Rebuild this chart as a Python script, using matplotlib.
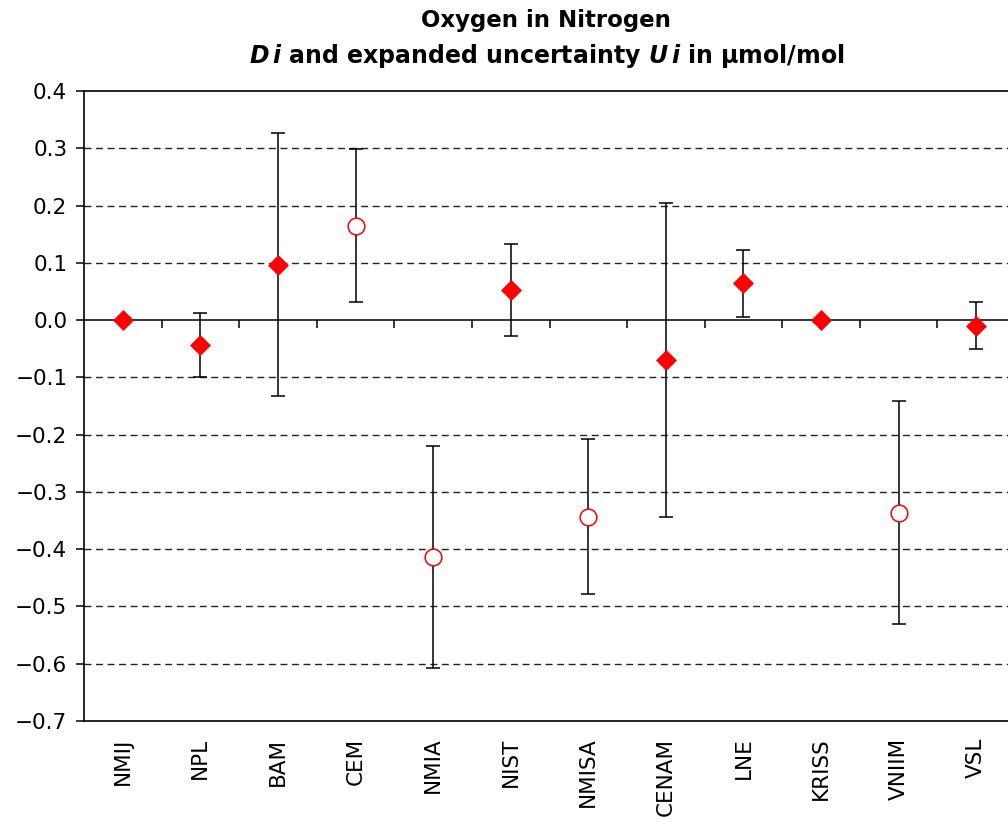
import numpy as np
import matplotlib
matplotlib.use("Agg")
import matplotlib.pyplot as plt

labs = ["NMIJ", "NPL", "BAM", "CEM", "NMIA", "NIST", "NMISA", "CENAM", "LNE", "KRISS", "VNIIM", "VSL"]
d_vals = [0.0, -0.043, 0.097, 0.165, -0.413, 0.052, -0.343, -0.070, 0.064, 0.0, -0.336, -0.010]
u_vals = [np.nan, 0.0555, 0.230, 0.134, 0.194, 0.080, 0.136, 0.274, 0.0585, np.nan, 0.195, 0.041]
is_open = [False, False, False, True, True, False, True, False, False, False, True, False]
yticks = [0.4, 0.3, 0.2, 0.1, 0.0, -0.1, -0.2, -0.3, -0.4, -0.5, -0.6, -0.7]

plt.rcParams['font.family'] = ['DejaVu Sans']
plt.rcParams['mathtext.fontset'] = 'dejavusans'

fig = plt.figure(figsize=(10.08, 8.25), dpi=100)
ax = fig.add_axes([84/1008, 1-721/825, 931/1008, (721-91)/825])

x = np.arange(len(labs))
d = np.array(d_vals)
u = np.array(u_vals)
op = np.array(is_open)

ax.set_xlim(-0.5, len(labs) - 0.5)
ax.set_ylim(min(yticks), max(yticks))

# grid
for yt in yticks:
    if yt in (max(yticks), min(yticks)):
        continue
    if yt == 0.0:
        ax.axhline(0, color='black', lw=1.1, zorder=2)
    else:
        ax.axhline(yt, color='#222222', lw=1.0, ls=(0, (5, 3.3)), zorder=1)

# boundary ticks on the zero line
bounds = np.arange(len(labs) - 1) + 0.5
ax.vlines(bounds, 0, -0.013, color='black', lw=1.1, zorder=2)

m = ~np.isnan(u)
ax.errorbar(x[m], d[m], yerr=u[m], fmt='none', ecolor='black', elinewidth=1.1,
            capsize=4.8, capthick=1.1, zorder=3)

ax.plot(x[~op], d[~op], ls='none', marker='D', ms=10, mfc='#ff0000', mec='#ff0000', mew=0.5, zorder=4)
ax.plot(x[op], d[op], ls='none', marker='o', ms=12, mfc='white', mec='#ff0000', mew=1.1, zorder=4)

ax.set_yticks(yticks)
ax.set_yticklabels([f"{v:.1f}".replace("-", "\u2212") for v in yticks], fontsize=15.5)
ax.tick_params(axis='y', direction='out', length=6, width=1.1, pad=6)
ax.set_xticks(x)
ax.set_xticklabels(labs, rotation=90, fontsize=15.5)
ax.tick_params(axis='x', length=0, pad=12)

for s in ['left', 'top', 'bottom']:
    ax.spines[s].set_linewidth(1.2)
ax.spines['right'].set_visible(False)

fig.text(0.542, 1-20/825, "Oxygen in Nitrogen", ha='center', va='center',
         fontsize=16.5, fontweight='bold')
fig.text(0.542, 1-56/825,
         r"$\mathbfit{D}\,\mathbfit{i}$ and expanded uncertainty $\mathbfit{U}\,\mathbfit{i}$ in μmol/mol",
         ha='center', va='center', fontsize=17, fontweight='bold')

fig.savefig("out.png", dpi=100)
